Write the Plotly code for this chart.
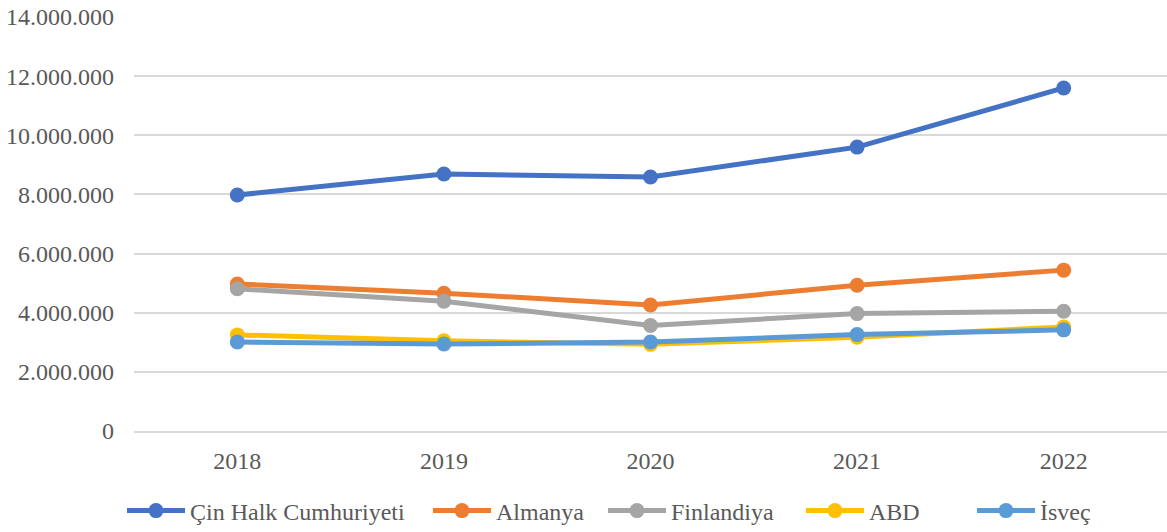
import plotly.graph_objects as go

years = ["2018", "2019", "2020", "2021", "2022"]
series_names = ["Çin Halk Cumhuriyeti", "Almanya", "Finlandiya", "ABD", "İsveç"]
cin = [7980000, 8690000, 8590000, 9600000, 11600000]
almanya = [4970000, 4660000, 4260000, 4930000, 5440000]
finlandiya = [4810000, 4390000, 3570000, 3970000, 4050000]
abd = [3250000, 3050000, 2930000, 3170000, 3520000]
isvec = [3010000, 2940000, 3010000, 3260000, 3420000]
colors = ["#4472C4", "#ED7D31", "#A5A5A5", "#FFC000", "#5B9BD5"]
legend_x_px = [122, 428, 603, 801, 972]

data = [cin, almanya, finlandiya, abd, isvec]
W, H = 1167, 532
font_family = "Liberation Serif, Times New Roman, serif"
FS = 24

fig = go.Figure()
legend_layouts = {}
for i, (name, vals, col) in enumerate(zip(series_names, data, colors)):
    lname = "legend" if i == 0 else f"legend{i+1}"
    fig.add_trace(go.Scatter(
        x=years, y=vals, name=name, mode="lines+markers",
        line=dict(color=col, width=5),
        marker=dict(color=col, size=15),
        hoverinfo="skip", legend=lname,
    ))
    legend_layouts[lname] = dict(
        orientation="h", xref="container", yref="container",
        x=legend_x_px[i] / W, xanchor="left", y=(H - 511) / H, yanchor="middle",
        font=dict(family=font_family, size=FS, color="#595959"),
        itemwidth=58, bgcolor="rgba(0,0,0,0)", borderwidth=0,
    )

fig.update_layout(
    width=W, height=H,
    margin=dict(l=134, r=0, t=17, b=101, autoexpand=False),
    paper_bgcolor="white", plot_bgcolor="white",
    separators=",.",
    font=dict(family=font_family, size=FS, color="#595959"),
    showlegend=True,
    xaxis=dict(
        type="category", range=[-0.5, 4.5],
        showgrid=False, showline=True, linecolor="#D9D9D9", linewidth=1.5,
        ticks="", ticklabelstandoff=7,
        tickfont=dict(family=font_family, size=FS, color="#595959"),
        zeroline=False, automargin=False,
    ),
    yaxis=dict(
        range=[0, 14000000], tickvals=[0, 2000000, 4000000, 6000000, 8000000, 10000000, 12000000, 14000000],
        tickformat=",d", showgrid=True, gridcolor="#D9D9D9", gridwidth=1.5,
        zeroline=False, showline=False, ticks="", ticklabelstandoff=19,
        tickfont=dict(family=font_family, size=FS, color="#595959"),
        automargin=False,
    ),
    **legend_layouts,
)

fig.write_html(
    "out.html",
    config={"displayModeBar": False},
    post_script="document.body.style.margin='0';document.body.style.overflow='hidden';",
)
